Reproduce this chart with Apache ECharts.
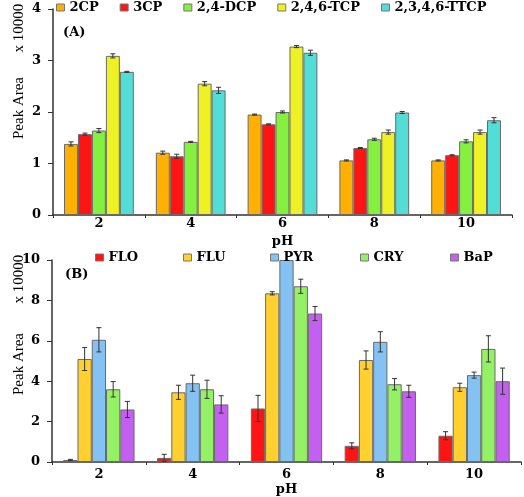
<!DOCTYPE html>
<html><head><meta charset="utf-8">
<script src="https://cdn.jsdelivr.net/npm/echarts@6/dist/echarts.min.js"></script>
<style>html,body{margin:0;padding:0;background:#fff}#c{width:524px;height:497px}</style>
</head><body><div id="c"></div>
<script>
const categories = ['2', '4', '6', '8', '10'];

// Panel A (x 10000)
const namesA = ['2CP', '3CP', '2,4-DCP', '2,4,6-TCP', '2,3,4,6-TTCP'];
const cp2   = [1.38, 1.21, 1.95, 1.06, 1.06];
const cp3   = [1.57, 1.14, 1.76, 1.30, 1.16];
const dcp   = [1.64, 1.42, 2.00, 1.47, 1.43];
const tcp   = [3.09, 2.55, 3.27, 1.61, 1.61];
const ttcp  = [2.78, 2.42, 3.15, 1.99, 1.84];
const cp2Err  = [0.04, 0.03, 0.01, 0.01, 0.01];
const cp3Err  = [0.02, 0.04, 0.01, 0.01, 0.01];
const dcpErr  = [0.04, 0.01, 0.02, 0.02, 0.03];
const tcpErr  = [0.04, 0.04, 0.02, 0.04, 0.04];
const ttcpErr = [0.01, 0.06, 0.05, 0.02, 0.05];

// Panel B (x 10000)
const namesB = ['FLO', 'FLU', 'PYR', 'CRY', 'BaP'];
const flo = [0.10, 0.20, 2.65, 0.80, 1.30];
const flu = [5.10, 3.45, 8.35, 5.05, 3.70];
const pyr = [6.05, 3.90, 10.0, 5.95, 4.30];
const cry = [3.60, 3.60, 8.70, 3.85, 5.60];
const bap = [2.60, 2.85, 7.35, 3.50, 4.00];
const floErr = [0.03, 0.18, 0.65, 0.15, 0.20];
const fluErr = [0.57, 0.35, 0.08, 0.45, 0.20];
const pyrErr = [0.60, 0.40, 0.00, 0.50, 0.15];
const cryErr = [0.38, 0.45, 0.35, 0.28, 0.65];
const bapErr = [0.40, 0.43, 0.35, 0.30, 0.65];

const colorsA = ['#FFB000', '#FF1414', '#84F040', '#EEF224', '#52DED6'];
const colorsB = ['#FF1414', '#FFD030', '#84C2F4', '#94F064', '#C460F0'];

const valsA = [cp2, cp3, dcp, tcp, ttcp];
const errsA = [cp2Err, cp3Err, dcpErr, tcpErr, ttcpErr];
const valsB = [flo, flu, pyr, cry, bap];
const errsB = [floErr, fluErr, pyrErr, cryErr, bapErr];

const FONT = 'DejaVu Serif';
const GAP = 0.24;

function errSeries(k, n, axisIdx, vals, errs) {
  return {
    type: 'custom', xAxisIndex: axisIdx, yAxisIndex: axisIdx, z: 10, clip: true,
    silent: true,
    data: vals.map((v, i) => [i, v, errs[i]]),
    encode: { x: 0, y: 1 },
    renderItem: function (params, api) {
      const x = api.value(0), v = api.value(1), e = api.value(2);
      if (!e) return null;
      const c = api.coord([x, v]);
      const band = api.size([1, 0])[0];
      const bw = band * (1 - GAP) / n;
      const cx = c[0] + (k - (n - 1) / 2) * bw;
      const hi = api.coord([x, v + e])[1];
      const lo = api.coord([x, v - e])[1];
      const cap = 2.5;
      const st = { stroke: '#333', lineWidth: 1 };
      return { type: 'group', children: [
        { type: 'line', shape: { x1: cx, y1: hi, x2: cx, y2: lo }, style: st },
        { type: 'line', shape: { x1: cx - cap, y1: hi, x2: cx + cap, y2: hi }, style: st },
        { type: 'line', shape: { x1: cx - cap, y1: lo, x2: cx + cap, y2: lo }, style: st }
      ]};
    }
  };
}

const series = [];
namesA.forEach((nm, k) => {
  series.push({ name: nm, type: 'bar', xAxisIndex: 0, yAxisIndex: 0, data: valsA[k],
    barGap: '0%', barCategoryGap: (GAP * 100) + '%',
    itemStyle: { color: colorsA[k], borderColor: '#6a6a6a', borderWidth: 1 } });
});
namesA.forEach((nm, k) => series.push(errSeries(k, 5, 0, valsA[k], errsA[k])));
namesB.forEach((nm, k) => {
  series.push({ name: nm, type: 'bar', xAxisIndex: 1, yAxisIndex: 1, data: valsB[k],
    barGap: '0%', barCategoryGap: (GAP * 100) + '%',
    itemStyle: { color: colorsB[k], borderColor: '#6a6a6a', borderWidth: 1 } });
});
namesB.forEach((nm, k) => series.push(errSeries(k, 5, 1, valsB[k], errsB[k])));

const axisLine = { lineStyle: { color: '#333', width: 1.5 } };
const lbl = { fontFamily: FONT, fontWeight: 'bold', fontSize: 13, color: '#000' };

function xAx(gi, margin, nameGap) {
  return { type: 'category', gridIndex: gi, data: categories, axisLine: axisLine,
    axisTick: { show: true, length: 3, lineStyle: { color: '#333' } },
    axisLabel: Object.assign({ margin: margin }, lbl),
    name: 'pH', nameLocation: 'middle', nameGap: nameGap,
    nameTextStyle: { fontFamily: FONT, fontWeight: 'bold', fontSize: 13, color: '#000' } };
}
function yAx(gi, max, interval) {
  return { type: 'value', gridIndex: gi, min: 0, max: max, interval: interval,
    axisLine: Object.assign({ show: true }, axisLine),
    axisTick: { show: true, length: 5, lineStyle: { color: '#333' } },
    splitLine: { show: false },
    axisLabel: Object.assign({ margin: 12 }, lbl) };
}

const legTxt = { fontFamily: FONT, fontWeight: 'bold', fontSize: 13, color: '#000' };
const legBase = { itemWidth: 8, itemHeight: 7, icon: 'rect', textStyle: legTxt,
  itemStyle: { borderColor: '#777', borderWidth: 1 }, padding: 0 };

const legends = [Object.assign({}, legBase, { data: namesA, left: 56, top: 1, itemGap: 21 })];
const legLeftB = [95, 183, 270, 360, 450];
namesB.forEach((nm, k) => legends.push(Object.assign({}, legBase, { data: [nm], left: legLeftB[k], top: 251 })));

function rotText(x, y, t, bold) {
  return { type: 'text', x: x, y: y, rotation: Math.PI / 2,
    style: { text: t, fontFamily: 'Liberation Serif', fontWeight: bold ? 'bold' : 'normal', fontSize: 15,
      fill: '#000', align: 'center', verticalAlign: 'middle' } };
}

const option = {
  animation: false,
  textStyle: { fontFamily: FONT },
  legend: legends,
  grid: [
    { left: 53, right: 12, top: 9, bottom: 282 },
    { left: 52, right: 3, top: 260, bottom: 32 }
  ],
  xAxis: [xAx(0, 2, 20), xAx(1, 6, 21)],
  yAxis: [yAx(0, 4, 1), yAx(1, 10, 2)],
  graphic: [
    rotText(19, 28, 'x 10000'),
    rotText(19, 108, 'Peak Area'),
    rotText(19, 279, 'x 10000'),
    rotText(19, 364, 'Peak Area'),
    { type: 'text', x: 63, y: 26, style: { text: '(A)', fontFamily: FONT, fontWeight: 'bold', fontSize: 13, fill: '#000' } },
    { type: 'text', x: 65, y: 268, style: { text: '(B)', fontFamily: FONT, fontWeight: 'bold', fontSize: 13, fill: '#000' } }
  ],
  series: series
};
const chart = echarts.init(document.getElementById('c'), null, { renderer: 'canvas' });
chart.setOption(option);
</script></body></html>
